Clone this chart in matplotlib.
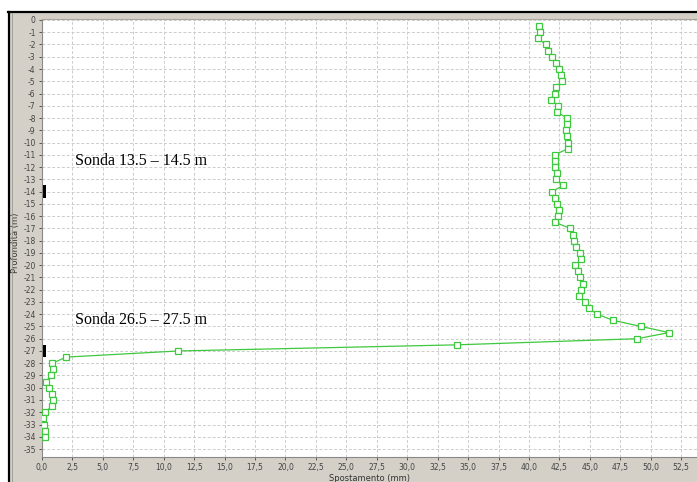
import matplotlib.pyplot as plt
from matplotlib.patches import Rectangle
from matplotlib.lines import Line2D
from matplotlib.ticker import FuncFormatter

# inclinometer reading: displacement (mm) vs depth (m)
depth = [-0.5, -1.0, -1.5, -2.0, -2.5, -3.0, -3.5, -4.0, -4.5, -5.0,
         -5.5, -6.0, -6.5, -7.0, -7.5, -8.0, -8.5, -9.0, -9.5, -10.0,
         -10.5, -11.0, -11.5, -12.0, -12.5, -13.0, -13.5, -14.0, -14.5, -15.0,
         -15.5, -16.0, -16.5, -17.0, -17.5, -18.0, -18.5, -19.0, -19.5, -20.0,
         -20.5, -21.0, -21.5, -22.0, -22.5, -23.0, -23.5, -24.0, -24.5, -25.0,
         -25.5, -26.0, -26.5, -27.0, -27.5, -28.0, -28.5, -29.0, -29.5, -30.0,
         -30.5, -31.0, -31.5, -32.0, -32.5, -33.0, -33.5, -34.0]
disp = [40.8, 40.9, 40.7, 41.4, 41.6, 41.9, 42.2, 42.5, 42.6, 42.7,
        42.2, 42.1, 41.8, 42.4, 42.3, 43.1, 43.1, 43.0, 43.1, 43.2,
        43.2, 42.1, 42.1, 42.1, 42.3, 42.2, 42.8, 41.9, 42.1, 42.3,
        42.5, 42.4, 42.1, 43.4, 43.6, 43.7, 43.9, 44.2, 44.3, 43.8,
        44.0, 44.2, 44.4, 44.3, 44.1, 44.6, 44.9, 45.6, 46.9, 49.2,
        51.5, 48.9, 34.1, 11.2, 2.0, 0.85, 0.93, 0.71, 0.36, 0.6,
        0.85, 0.93, 0.85, 0.22, 0.11, 0.14, 0.27, 0.27]

# probe positions (top, bottom depth in m)
probes = [(13.5, 14.5), (26.5, 27.5)]
probe_labels = ["Sonda 13.5 \u2013 14.5 m", "Sonda 26.5 \u2013 27.5 m"]

panel = "#d4d0c8"
green = "#3ec83e"

fig = plt.figure(figsize=(6.97, 4.82), dpi=100)
fig.patch.set_facecolor("white")

# gray window frame with dark edge on top/left
W, H = 697.0, 482.0
fig.patches.append(Rectangle((8 / W, 0), 1, (H - 11) / H, transform=fig.transFigure,
                             facecolor=panel, edgecolor="none", zorder=-5))
fig.lines.append(Line2D([8 / W, 1], [(H - 11.5) / H] * 2, transform=fig.transFigure,
                        color="black", lw=1.6))
fig.lines.append(Line2D([8.5 / W] * 2, [0, (H - 11.5) / H], transform=fig.transFigure,
                        color="black", lw=1.6))
fig.lines.append(Line2D([11.5 / W] * 2, [0, (H - 13) / H], transform=fig.transFigure,
                        color="#9a978f", lw=0.6))

ax = fig.add_axes([42 / W, 25 / H, 1 - 42 / W, (457 - 19) / H])
ax.set_facecolor("white")

ax.plot(disp, depth, color=green, lw=0.9, marker="s", markersize=4,
        markerfacecolor="white", markeredgecolor=green, markeredgewidth=0.9, zorder=3)

for (top, bot), label in zip(probes, probe_labels):
    ax.add_patch(Rectangle((0.05, -bot), 0.3, bot - top, facecolor="black",
                           edgecolor="none", zorder=4))
    ax.text(2.7, -top + 2.0, label, fontsize=11.5, family="Liberation Serif",
            va="center", ha="left", color="black")

ax.set_xlim(0, 53.8)
ax.set_ylim(-35.65, 0.08)
ax.set_xticks([i * 2.5 for i in range(22)])
ax.set_yticks(list(range(0, -36, -1)))
ax.xaxis.set_major_formatter(FuncFormatter(lambda v, p: f"{v:.1f}".replace(".", ",")))
ax.yaxis.set_major_formatter(FuncFormatter(lambda v, p: f"{int(round(v))}"))
ax.tick_params(labelsize=5.5, colors="#444444", length=2.5, width=0.6, pad=2)

ax.grid(True, color="#cccccc", lw=0.7, linestyle=(0, (3, 2)))
ax.set_axisbelow(True)
for side in ["top", "right"]:
    ax.spines[side].set_visible(False)
for side in ["left", "bottom"]:
    ax.spines[side].set_color("#888888")
    ax.spines[side].set_linewidth(0.8)
fig.lines.append(Line2D([42 / W, 1], [(H - 18.7) / H] * 2, transform=fig.transFigure,
                        color="#a8a59e", lw=0.8))

ax.set_xlabel("Spostamento (mm)", fontsize=6, color="#333333", labelpad=1)
ax.set_ylabel("Profondità (m)", fontsize=6, color="#333333")
ax.yaxis.set_label_coords(-22 / 655, 0.49)

fig.savefig("out.png", dpi=100, facecolor=fig.get_facecolor())
